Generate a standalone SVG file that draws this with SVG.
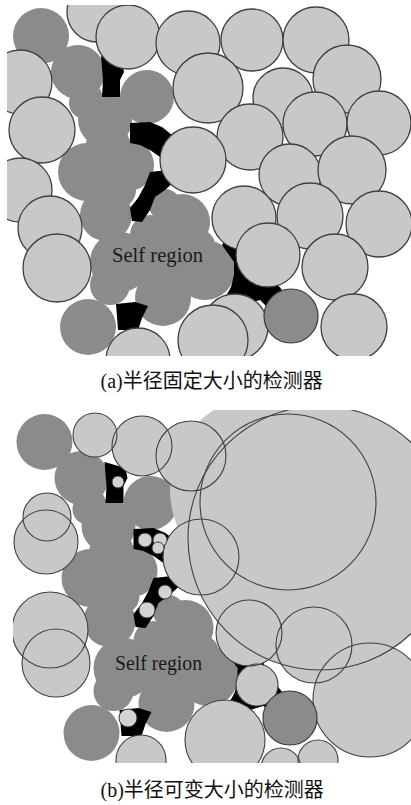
<svg xmlns="http://www.w3.org/2000/svg" width="411" height="805" viewBox="0 0 411 805">
<style>
.la{fill:#c8c8c8;stroke:#404040;stroke-width:1.3}
.dk{fill:#8b8b8b}
.dko{fill:#8b8b8b;stroke:#3a3a3a;stroke-width:1.2}
.hole{fill:#000}
.bf{fill:#c8c8c8;stroke:none}
.bs{fill:none;stroke:#404040;stroke-width:1.1}
.sm{fill:#d2d2d2;stroke:#3a3a3a;stroke-width:1}
.selftxt{font-family:"Liberation Serif",serif;font-size:20px;fill:#1a1a1a}
.cap{font-family:"Noto Sans CJK SC",sans-serif;font-size:20px;fill:#111}
.capl{font-family:"Liberation Serif",serif}
</style>
<defs>
<clipPath id="clipA"><rect x="7" y="5" width="404" height="351"/></clipPath>
<clipPath id="clipB"><rect x="13" y="410" width="398" height="353"/></clipPath>
<g id="selfRegion" class="dk">
<circle cx="41" cy="36" r="28"/>
<circle cx="78" cy="72" r="27"/>
<circle cx="90" cy="96" r="12"/>
<circle cx="85" cy="103" r="16"/>
<circle cx="105" cy="120" r="27"/>
<circle cx="108" cy="145" r="22"/>
<circle cx="147" cy="97" r="27"/>
<circle cx="87" cy="172" r="29"/>
<circle cx="128" cy="165" r="26"/>
<circle cx="118" cy="190" r="18"/>
<circle cx="106" cy="215" r="26"/>
<circle cx="165" cy="205" r="16"/>
<circle cx="182" cy="222" r="28"/>
<circle cx="200" cy="245" r="15"/>
<circle cx="150" cy="235" r="20"/>
<circle cx="120" cy="262" r="30"/>
<circle cx="160" cy="265" r="30"/>
<circle cx="205" cy="270" r="30"/>
<circle cx="163" cy="298" r="28"/>
<circle cx="110" cy="285" r="20"/>
<circle cx="88" cy="327" r="28"/>
</g>
<g id="holes" class="hole">
<polygon points="101,56 122,62 124,72 120,80 120,97 102,97 103,80"/>
<polygon points="130,123 150,122 162,127 172,135 168,150 160,157 150,150 140,145 130,143"/>
<polygon points="150,172 168,170 176,180 165,190 155,197 150,210 142,222 132,221 130,208 138,198 145,185"/>
<polygon points="225,240 254,240 264,268 282,290 278,318 260,300 240,306 226,296 231,287 234,275 234,262 222,245"/>
<polygon points="116,304 135,302 148,306 142,318 138,330 118,330"/>
</g>
<g id="bCircles">
<circle cx="320" cy="538" r="132"/>
<circle cx="288" cy="502" r="88"/>
<circle cx="191" cy="456" r="35"/>
<circle cx="142" cy="446" r="30"/>
<circle cx="95" cy="435" r="22"/>
<circle cx="47" cy="517" r="24"/>
<circle cx="46" cy="542" r="32"/>
<circle cx="201" cy="557" r="38"/>
<circle cx="50" cy="630" r="38"/>
<circle cx="56" cy="663" r="34"/>
<circle cx="249" cy="633" r="33"/>
<circle cx="314" cy="645" r="38"/>
<circle cx="370" cy="700" r="57"/>
<circle cx="257" cy="685" r="21"/>
<circle cx="141" cy="760" r="25"/>
<circle cx="225" cy="740" r="40"/>
<circle cx="281" cy="768" r="20"/>
<circle cx="318" cy="760" r="20"/>
</g>
</defs>

<g id="panelA" clip-path="url(#clipA)">
<use href="#selfRegion"/>
<use href="#holes"/>
<g id="detectorsA" class="la">
<circle cx="97" cy="12" r="30"/>
<circle cx="283" cy="98" r="30"/>
<circle cx="128" cy="37" r="32"/>
<circle cx="188" cy="43" r="32"/>
<circle cx="252" cy="40" r="31"/>
<circle cx="316" cy="40" r="33"/>
<circle cx="347" cy="79" r="34"/>
<circle cx="208" cy="88" r="35"/>
<circle cx="315" cy="124" r="32"/>
<circle cx="379" cy="123" r="32"/>
<circle cx="250" cy="137" r="33"/>
<circle cx="20" cy="82" r="32"/>
<circle cx="42" cy="130" r="33"/>
<circle cx="193" cy="160" r="33"/>
<circle cx="290" cy="175" r="31"/>
<circle cx="352" cy="170" r="34"/>
<circle cx="20" cy="190" r="32"/>
<circle cx="50" cy="228" r="32"/>
<circle cx="57" cy="268" r="34"/>
<circle cx="244" cy="218" r="32"/>
<circle cx="310" cy="216" r="33"/>
<circle cx="379" cy="224" r="33"/>
<circle cx="268" cy="255" r="32"/>
<circle cx="335" cy="267" r="33"/>
<circle cx="354" cy="327" r="33"/>
<circle cx="235" cy="327" r="33"/>
<circle cx="213" cy="340" r="35"/>
<circle cx="138" cy="360" r="32"/>
</g>
<circle class="dko" cx="291" cy="316" r="27"/>
<text class="selftxt" x="112" y="262" textLength="91" lengthAdjust="spacingAndGlyphs">Self region</text>
</g>

<g id="panelB" clip-path="url(#clipB)">
<g transform="translate(3.5,406)">
<use href="#selfRegion"/>
<use href="#holes"/>
</g>
<circle class="bf" cx="265" cy="490" r="95"/>
<use href="#bCircles" class="bf"/>
<use href="#bCircles" class="bs"/>
<g id="smallDetectorsB" class="sm">
<circle cx="118" cy="482" r="6"/>
<circle cx="145" cy="540" r="7"/>
<circle cx="160" cy="540" r="7"/>
<circle cx="158" cy="548" r="6"/>
<circle cx="165" cy="592" r="7"/>
<circle cx="147" cy="610" r="8"/>
<circle cx="128" cy="718" r="9"/>
</g>
<circle class="dko" cx="290" cy="718" r="27"/>
<text class="selftxt" x="115" y="670" textLength="87" lengthAdjust="spacingAndGlyphs">Self region</text>
</g>

<text class="cap" x="100.5" y="388"><tspan class="capl">(a)</tspan>半径固定大小的检测器</text>
<text class="cap" x="100.5" y="797"><tspan class="capl">(b)</tspan>半径可变大小的检测器</text>
</svg>
